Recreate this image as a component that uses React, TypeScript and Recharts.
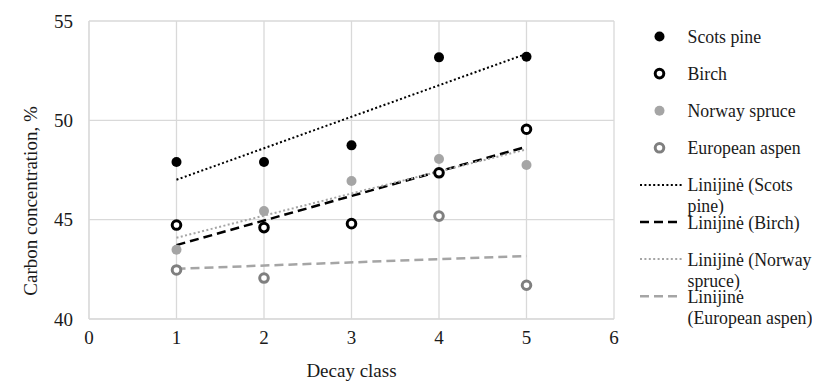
import {
  ComposedChart,
  Scatter,
  Line,
  XAxis,
  YAxis,
  CartesianGrid,
} from "recharts";

const decayClasses = [1, 2, 3, 4, 5];
const scotsPine = [47.9, 47.9, 48.74, 53.17, 53.2];
const birch = [44.73, 44.6, 44.8, 47.36, 49.55];
const norwaySpruce = [43.49, 45.43, 46.95, 48.05, 47.75];
const europeanAspen = [42.47, 42.06, null, 45.18, 41.7];

// trend line ends
const trendX = [1, 5];
const scotsPineTrend = [47.01, 53.35];
const birchTrend = [43.72, 48.67];
const norwaySpruceTrend = [44.09, 48.54];
const europeanAspenTrend = [42.53, 43.17];

const xTicks = [0, 1, 2, 3, 4, 5, 6];
const yTicks = [40, 45, 50, 55];

const font = "Liberation Serif";
const fontSize = 19;
const textColor = "#1a1a1a";
const gridColor = "#d9d9d9";

function points(values: (number | null)[]) {
  return decayClasses
    .map((x, i) => ({ x, y: values[i] }))
    .filter((p) => p.y !== null);
}

function trend(values: number[]) {
  return trendX.map((x, i) => ({ x, y: values[i] }));
}

const dot = (fill: string) => (props: any) => (
  <circle cx={props.cx} cy={props.cy} r={5} fill={fill} />
);

const ring = (stroke: string) => (props: any) => (
  <circle cx={props.cx} cy={props.cy} r={4.3} fill="#fff" stroke={stroke} strokeWidth={3} />
);

type Item = {
  lines: string[];
  kind: "dot" | "ring" | "line";
  color: string;
  dash?: string;
  width?: number;
};

const legendItems: Item[] = [
  { lines: ["Scots pine"], kind: "dot", color: "#000" },
  { lines: ["Birch"], kind: "ring", color: "#000" },
  { lines: ["Norway spruce"], kind: "dot", color: "#a5a5a5" },
  { lines: ["European aspen"], kind: "ring", color: "#7f7f7f" },
  { lines: ["Linijinė (Scots", "pine)"], kind: "line", color: "#000", dash: "2 2.4", width: 2 },
  { lines: ["Linijinė (Birch)"], kind: "line", color: "#000", dash: "9 5", width: 2.5 },
  { lines: ["Linijinė (Norway", "spruce)"], kind: "line", color: "#a5a5a5", dash: "2 2.4", width: 2 },
  { lines: ["Linijinė", "(European aspen)"], kind: "line", color: "#a5a5a5", dash: "9 5", width: 2.5 },
];

function LegendBox() {
  return (
    <svg
      width={180}
      height={340}
      style={{ position: "absolute", left: 640, top: 20 }}
      fontFamily={font}
      fontSize={17.8}
    >
      {legendItems.map((item, i) => {
        const cy = 16.5 + i * 37.1;
        return (
          <g key={item.lines.join(" ")}>
            {item.kind === "dot" && <circle cx={19.5} cy={cy} r={5} fill={item.color} />}
            {item.kind === "ring" && (
              <circle cx={19.5} cy={cy} r={4.3} fill="#fff" stroke={item.color} strokeWidth={3} />
            )}
            {item.kind === "line" && (
              <line
                x1={0}
                y1={cy}
                x2={42}
                y2={cy}
                stroke={item.color}
                strokeWidth={item.width}
                strokeDasharray={item.dash}
              />
            )}
            <text x={47.5} y={cy + 6.5} fill={textColor}>
              {item.lines.map((l, j) => (
                <tspan key={l} x={47.5} dy={j === 0 ? 0 : 21}>
                  {l}
                </tspan>
              ))}
            </text>
          </g>
        );
      })}
    </svg>
  );
}

const yLabel = () => (
  <text
    x={30}
    y={201}
    transform="rotate(-90 30 201)"
    textAnchor="middle"
    dominantBaseline="central"
    fill={textColor}
    fontSize={fontSize}
    fontFamily={font}
  >
    Carbon concentration, %
  </text>
);

export default function App() {
  return (
    <div style={{ position: "relative", margin: -8, width: 820, height: 389, overflow: "hidden" }}>
      <div
        style={{
          position: "absolute",
          left: 5,
          top: 5,
          width: 830,
          height: 400,
          borderLeft: `1px solid ${gridColor}`,
          borderTop: `1px solid ${gridColor}`,
        }}
      />
      <ComposedChart
        width={820}
        height={389}
        margin={{ top: 21, right: 206, bottom: 40, left: 29 }}
        style={{ fontFamily: font }}
      >
        <CartesianGrid stroke={gridColor} strokeWidth={1.3} />
        <XAxis
          dataKey="x"
          type="number"
          domain={[0, 6]}
          ticks={xTicks}
          interval={0}
          height={30}
          stroke={gridColor}
          tickLine={false}
          tick={{ fill: textColor, fontSize, fontFamily: font }}
          tickMargin={6}
          label={{
            value: "Decay class",
            position: "insideBottom",
            offset: -28,
            fill: textColor,
            fontSize,
            fontFamily: font,
          }}
        />
        <YAxis
          dataKey="y"
          type="number"
          domain={[40, 55]}
          ticks={yTicks}
          width={60}
          stroke={gridColor}
          tickLine={false}
          tick={{ fill: textColor, fontSize, fontFamily: font }}
          tickMargin={10}
          label={yLabel}
        />
        <Line
          data={trend(scotsPineTrend)}
          dataKey="y"
          stroke="#000"
          strokeWidth={2}
          strokeDasharray="2 2.4"
          dot={false}
          activeDot={false}
          isAnimationActive={false}
        />
        <Line
          data={trend(birchTrend)}
          dataKey="y"
          stroke="#000"
          strokeWidth={2.5}
          strokeDasharray="9 5"
          dot={false}
          activeDot={false}
          isAnimationActive={false}
        />
        <Line
          data={trend(norwaySpruceTrend)}
          dataKey="y"
          stroke="#a5a5a5"
          strokeWidth={2}
          strokeDasharray="2 2.4"
          dot={false}
          activeDot={false}
          isAnimationActive={false}
        />
        <Line
          data={trend(europeanAspenTrend)}
          dataKey="y"
          stroke="#a5a5a5"
          strokeWidth={2.5}
          strokeDasharray="9 5"
          dot={false}
          activeDot={false}
          isAnimationActive={false}
        />
        <Scatter name="Scots pine" data={points(scotsPine)} shape={dot("#000")} isAnimationActive={false} />
        <Scatter name="Birch" data={points(birch)} shape={ring("#000")} isAnimationActive={false} />
        <Scatter name="Norway spruce" data={points(norwaySpruce)} shape={dot("#a5a5a5")} isAnimationActive={false} />
        <Scatter name="European aspen" data={points(europeanAspen)} shape={ring("#7f7f7f")} isAnimationActive={false} />
      </ComposedChart>
      <LegendBox />
    </div>
  );
}
